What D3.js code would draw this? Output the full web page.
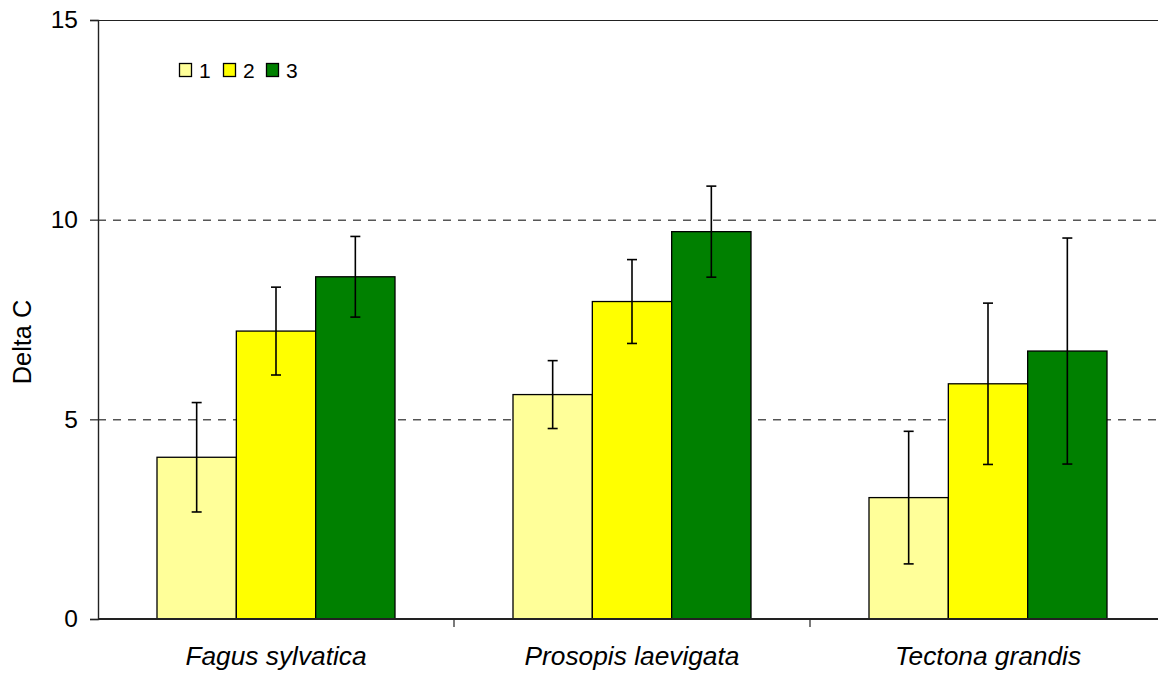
<!DOCTYPE html>
<html>
<head>
<meta charset="utf-8">
<script src="https://cdn.jsdelivr.net/npm/d3@7"></script>
<style>
  html, body { margin: 0; padding: 0; background: #fff; }
  svg { display: block; font-family: "Liberation Sans", Arial, sans-serif; }
</style>
</head>
<body>
<svg id="chart" width="1158" height="673"></svg>
<script>
// Species on the category axis
const categories = ["Fagus sylvatica", "Prosopis laevigata", "Tectona grandis"];
// Treatment series shown in the legend
const seriesNames = ["1", "2", "3"];
const seriesColors = ["#FFFF99", "#FFFF00", "#008000"];
// Mean Delta C per species, one array per treatment
const series1 = [4.05, 5.62, 3.04];
const series2 = [7.21, 7.95, 5.89];
const series3 = [8.57, 9.70, 6.71];
// Error bar half-widths
const err1 = [1.37, 0.85, 1.66];
const err2 = [1.10, 1.05, 2.02];
const err3 = [1.01, 1.14, 2.83];
// Value axis ticks
const yTicks = [0, 5, 10, 15];

(function () {
  const values = [series1, series2, series3];
  const errors = [err1, err2, err3];

  const svg = d3.select("#chart");
  const plotLeft = 98, plotTop = 20, plotBottom = 619;
  const step = 356;
  const plotRight = plotLeft + step * categories.length;

  const y = d3.scaleLinear().domain([0, 15]).range([plotBottom, plotTop]);
  const x0 = d3.scaleBand().domain(categories).range([plotLeft, plotRight]).padding(0);
  const x1 = d3.scaleBand().domain(seriesNames).range([59, step - 59]).padding(0);

  // Dashed horizontal gridlines
  svg.append("g")
    .selectAll("line")
    .data(yTicks.filter(t => t > 0 && t < 15))
    .join("line")
    .attr("x1", plotLeft).attr("x2", plotRight)
    .attr("y1", d => y(d) + 0.5).attr("y2", d => y(d) + 0.5)
    .attr("stroke", "#000").attr("stroke-width", 1)
    .attr("stroke-dasharray", "8,7");

  // Top gridline at the axis maximum
  svg.append("line")
    .attr("x1", plotLeft).attr("x2", plotRight)
    .attr("y1", y(15) + 0.5).attr("y2", y(15) + 0.5)
    .attr("stroke", "#222").attr("stroke-width", 1.2);

  // Bars
  const rows = [];
  categories.forEach((c, i) => {
    seriesNames.forEach((s, j) => {
      rows.push({ cat: c, s, j, v: values[j][i], e: errors[j][i] });
    });
  });

  svg.append("g")
    .selectAll("rect")
    .data(rows)
    .join("rect")
    .attr("x", d => x0(d.cat) + x1(d.s))
    .attr("y", d => y(d.v))
    .attr("width", x1.bandwidth())
    .attr("height", d => y(0) - y(d.v))
    .attr("fill", d => seriesColors[d.j])
    .attr("stroke", "#000")
    .attr("stroke-width", 1.3);

  // Error bars
  const eb = svg.append("g").attr("stroke", "#000").attr("stroke-width", 1.6);
  rows.forEach(d => {
    const cx = x0(d.cat) + x1(d.s) + x1.bandwidth() / 2;
    eb.append("line").attr("x1", cx).attr("x2", cx)
      .attr("y1", y(d.v + d.e)).attr("y2", y(d.v - d.e));
    [d.v + d.e, d.v - d.e].forEach(v => {
      eb.append("line").attr("x1", cx - 5).attr("x2", cx + 5)
        .attr("y1", y(v)).attr("y2", y(v));
    });
  });

  // Value axis
  const yAxis = svg.append("g")
    .attr("transform", `translate(${plotLeft},0)`)
    .call(d3.axisLeft(y).tickValues(yTicks).tickSize(8).tickPadding(12).tickFormat(d3.format("d")));
  yAxis.select(".domain").attr("stroke", "#222").attr("stroke-width", 1.4);
  yAxis.selectAll(".tick line").attr("stroke", "#222").attr("stroke-width", 1.2);
  yAxis.selectAll(".tick text")
    .attr("font-size", 24.5).attr("fill", "#000")
    .attr("font-family", "'Liberation Sans', Arial, sans-serif");

  // Category axis with ticks at band boundaries
  svg.append("line")
    .attr("x1", plotLeft).attr("x2", plotRight)
    .attr("y1", plotBottom).attr("y2", plotBottom)
    .attr("stroke", "#222").attr("stroke-width", 1.8);
  svg.append("g")
    .selectAll("line")
    .data(categories.slice(1))
    .join("line")
    .attr("x1", d => x0(d)).attr("x2", d => x0(d))
    .attr("y1", plotBottom).attr("y2", plotBottom + 8)
    .attr("stroke", "#222").attr("stroke-width", 1.2);
  svg.append("g")
    .selectAll("text")
    .data(categories)
    .join("text")
    .attr("x", d => x0(d) + step / 2)
    .attr("y", 665)
    .attr("text-anchor", "middle")
    .attr("font-size", 26.3)
    .attr("font-style", "italic")
    .text(d => d);

  // Value axis title
  svg.append("text")
    .attr("transform", "translate(31,342) rotate(-90)")
    .attr("text-anchor", "middle")
    .attr("font-size", 25.3)
    .text("Delta C");

  // Legend
  const legendX = [179, 223, 266];
  const lg = svg.append("g");
  seriesNames.forEach((s, j) => {
    lg.append("rect")
      .attr("x", legendX[j] + 0.5).attr("y", 63.5)
      .attr("width", 12).attr("height", 13)
      .attr("fill", seriesColors[j]).attr("stroke", "#000").attr("stroke-width", 1.3);
    lg.append("text")
      .attr("x", legendX[j] + 20).attr("y", 77.5)
      .attr("font-size", 21)
      .text(s);
  });
})();
</script>
</body>
</html>
